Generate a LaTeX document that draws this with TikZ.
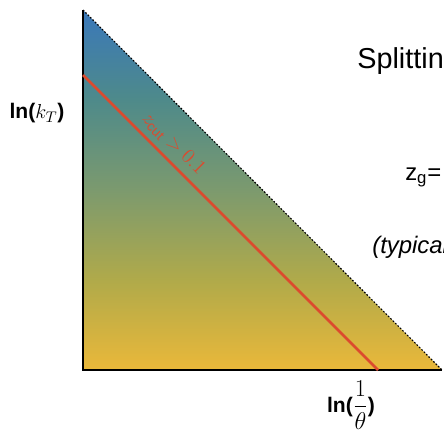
\documentclass[tikz,border=0pt]{standalone}
\usepackage{amsmath,amssymb}
\usepackage{fontspec}
\setmainfont{Liberation Sans}
\usetikzlibrary{positioning, calc}
\definecolor{ktblue}{HTML}{3A78BA}
\definecolor{ktteal}{HTML}{4E8A8A}
\definecolor{ktsage}{HTML}{7C9A6E}
\definecolor{ktolive}{HTML}{B0AA4A}
\definecolor{ktgold}{HTML}{EAB83A}
\definecolor{cutred}{HTML}{DC4A2E}
% the path is mapped onto 25bp--75bp of the shading
\pgfdeclareverticalshading{planeshade}{100bp}{
  color(0bp)=(ktgold); color(25bp)=(ktgold); color(37.5bp)=(ktolive);
  color(50bp)=(ktsage); color(62.5bp)=(ktteal); color(75bp)=(ktblue);
  color(100bp)=(ktblue)}

\begin{document}
\begin{tikzpicture}[
  x=0.025cm, y=-0.025cm,
  axis/.style={line width=2pt, black},
  edge/.style={line width=0.8pt, black, dash pattern=on 1.2pt off 1.2pt},
  cutline/.style={line width=2pt, cutred},
  axlabel/.style={font=\fontsize{15}{17}\selectfont\bfseries, inner sep=0pt},
  sidetext/.style={font=\fontsize{#1}{#1}\selectfont, anchor=base west, inner sep=0pt},
]

\clip (0,0) rectangle (444,435);
\useasboundingbox (0,0) rectangle (444,435);

% =============================================
% Lund plane triangle
% =============================================
\coordinate (origin) at (83,370);
\coordinate (top) at (83,10);
\coordinate (right) at (442,370);

\shade[shading=planeshade] (top) -- (origin) -- (right) -- cycle;
\draw[edge] (top) -- (right);

% Axes
\draw[axis] (top) -- (origin) -- (right);

% =============================================
% z_cut line
% =============================================
\coordinate (cutstart) at (83,75);
\coordinate (cutend) at (378,370);
\draw[cutline] (cutstart) -- (cutend)
  node[pos=0.27, sloped, above=4pt, inner sep=0pt, text=cutred,
       font=\fontsize{14}{16}\selectfont] (cutlabel)
  {$z_{\mathrm{cut}} > 0.1$};

% =============================================
% Axis labels
% =============================================
\node[axlabel] (ylabel) at (37,113) {ln($k_T$)};
\node[axlabel] (xlabel) at (351,405)
  {ln(\fontsize{19}{21}\selectfont$\dfrac{1}{\theta}$\fontsize{15}{17}\selectfont)};

% =============================================
% Text on the right
% =============================================
\node[sidetext=20.5] (title) at (357,68) {Splitting};
\node[sidetext=17] (zg) at (405,180) {z$_\mathrm{g}$=};
\node[sidetext=17, font=\fontsize{17}{17}\selectfont\itshape] (typical) at (372,253) {(typical};

\end{tikzpicture}
\end{document}
